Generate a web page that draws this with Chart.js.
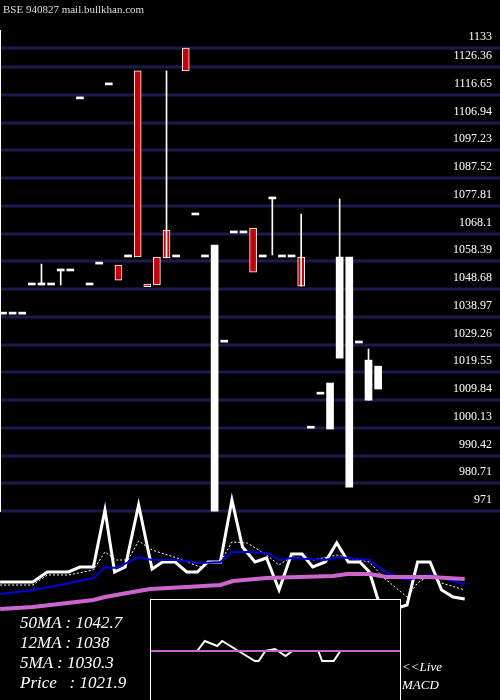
<!DOCTYPE html>
<html>
<head>
<meta charset="utf-8">
<script src="https://cdn.jsdelivr.net/npm/chart.js@4/dist/chart.umd.min.js"></script>
<style>
  body { margin: 0; background: #000; }
  #wrap { position: relative; width: 500px; height: 700px; background: #000; overflow: hidden; }
  #main { position: absolute; left: 0; top: 0; }
  #macdBox { position: absolute; left: 150px; top: 599px; width: 249px; height: 101px; border: 1px solid #fff; border-bottom: none; background: #000; }
  .t { position: absolute; color: #fff; font-family: "Liberation Serif", serif; font-style: italic; white-space: pre; }
</style>
</head>
<body>
<div id="wrap">
  <canvas id="main" width="500" height="700"></canvas>
  <div id="macdBox"><canvas id="macd" width="249" height="101"></canvas></div>
  <div class="t" style="left:3px;top:3px;font-style:normal;font-size:11px;color:#ddd">BSE 940827 mail.bullkhan.com</div>
  <div class="t" style="left:20px;top:613px;font-size:17px">50MA : 1042.7</div>
  <div class="t" style="left:20px;top:633px;font-size:17px">12MA : 1038</div>
  <div class="t" style="left:20px;top:653px;font-size:17px">5MA : 1030.3</div>
  <div class="t" style="left:20px;top:673px;font-size:17px">Price   : 1021.9</div>
  <div class="t" style="left:402px;top:659px;font-size:13px">&lt;&lt;Live</div>
  <div class="t" style="left:402px;top:677px;font-size:13px">MACD</div>
</div>
<script>
// candles, one per session
const opens  = [1039.9,1039.9,1039.9,1050.1,1050.1,1050.1,1055,1055,1115.2,1050.1,1057.4,1120.1,1057.1,1059.9,1125,1050.4,1059.9,1069.3,1059.9,1133,1074.6,1059.9,971,1030.1,1068.3,1068.3,1070,1059.9,1080.2,1059.9,1059.9,1059.9,1000,1011.9,999.7,1024.5,979.4,1029.8,1009.8,1013.7];
const closes = [1039.9,1039.9,1039.9,1050.1,1050.1,1050.1,1055,1055,1115.2,1050.1,1057.4,1120.1,1051.8,1059.9,1059.9,1049.5,1050.1,1059.6,1059.9,1125,1074.6,1059.9,1064.1,1030.1,1068.3,1068.3,1054.6,1059.9,1080.2,1059.9,1059.9,1049.7,1000,1011.9,1015.8,1059.9,1059.9,1029.8,1023.8,1021.7];
const highs  = [null,null,null,null,1057.4,null,1055,null,null,null,null,null,null,null,null,null,null,1125,null,null,null,null,null,null,null,null,null,null,1080.2,null,null,1074.9,null,null,null,1080.2,null,null,1027.7,null];
const lows   = [null,null,null,null,1050.1,null,1050.1,null,null,null,null,null,null,null,null,null,null,1059.6,null,null,null,null,null,null,null,null,null,null,1060.6,null,null,1049.7,null,null,null,1059.9,null,null,1009.8,null];
const yTicks = [1133,1126.36,1116.65,1106.94,1097.23,1087.52,1077.81,1068.1,1058.39,1048.68,1038.97,1029.26,1019.55,1009.84,1000.13,990.42,980.71,971];

// lower indicator panel (session position, level)
const priceX = [-0.3,3.1,4.6,6.8,8.0,9.4,10.6,11.6,12.7,14.1,15.5,16.6,17.9,19.1,20.2,21.3,22.6,23.8,24.9,26.2,27.4,28.7,30.0,31.1,32.2,33.5,34.7,35.9,37.1,38.1,39.0,40.2,41.3,42.0,43.1,44.4,45.6,46.8,48.0];
const priceLine = [1008,1008,1018,1018,1023,1023,1080,1018,1023,1085,1021,1028,1028,1018,1018,1028,1028,1090,1043,1028,1032,1000,1036,1036,1023,1028,1047,1028,1028,1018,990,940,983,985,1028,1028,1000,993,991];
const ma5X = [-0.3,3.1,4.6,6.8,9.4,10.6,11.8,13.0,14.1,15.5,18.1,20.5,21.3,22.6,23.8,25.4,27.4,28.7,30.0,32.2,34.7,35.9,38.1,39.5,42.0,43.1,44.4,45.6,48.0];
const ma5 = [1005,1005,1015,1015,1020,1038,1030,1030,1049,1040,1032,1023,1028,1028,1048,1047,1035,1025,1033,1030,1035,1032,1028,1013,993,1007,1015,1007,1000];
const ma12X = [-0.3,3.1,5.9,9.4,10.6,11.8,14.1,15.5,18.1,20.5,22.6,23.8,25.4,27.4,28.7,30.0,33.5,34.7,38.1,39.9,42.0,44.4,48.0];
const ma12 = [996,1000,1005,1012,1023,1022,1033,1030,1030,1027,1028,1038,1038,1037,1030,1032,1030,1033,1030,1017,1010,1015,1006];
const ma50X = [-0.3,3.1,6.7,9.4,10.6,13.5,15.3,19.1,22.6,23.9,27.4,30.9,34.3,35.8,38.1,39.9,44.4,48.0];
const ma50 = [981,983,987,990,993,998,1001,1003,1005,1009,1012,1013,1014,1016,1016,1013,1013,1011];

// MACD inset
const macdX = [0,4.8,5.6,6.9,7.4,9.1,10.8,11.2,11.9,12.9,14.0,14.7,17.4,17.8,19.0,19.7,24.7];
const macdLine = [0,0,10,5,10,0,-10,-10,0,2,-5,0,0,-10,-10,0,0];

const idx = opens.map((_, i) => i);
const bodyColor = idx.map(i => opens[i] > closes[i] ? '#cc0000' : '#ffffff');

const gridPlugin = {
  id: 'grid',
  beforeDatasetsDraw(chart) {
    const { ctx } = chart;
    const y = chart.scales.y;
    ctx.save();
    ctx.strokeStyle = '#1c1c4c';
    ctx.lineWidth = 3;
    yTicks.forEach(v => {
      const p = Math.round(y.getPixelForValue(v));
      ctx.beginPath(); ctx.moveTo(0, p); ctx.lineTo(500, p); ctx.stroke();
    });
    ctx.strokeStyle = '#ffffff'; ctx.lineWidth = 1;
    ctx.beginPath(); ctx.moveTo(0.5, 30); ctx.lineTo(0.5, 512); ctx.stroke();
    ctx.fillStyle = '#ffffff';
    ctx.font = '12px "Liberation Serif", serif';
    ctx.textAlign = 'right'; ctx.textBaseline = 'middle';
    yTicks.forEach(v => {
      ctx.fillText(String(v), 492, y.getPixelForValue(v) - 11);
    });
    ctx.restore();
  }
};

const pts = (xs, ys) => xs.map((x, i) => ({ x, y: ys[i] }));

new Chart(document.getElementById('main').getContext('2d'), {
  type: 'bar',
  data: {
    datasets: [
      { type: 'line', yAxisID: 'y2', data: pts(ma50X, ma50), borderColor: '#cc66cc', borderWidth: 4, pointRadius: 0, tension: 0 },
      { type: 'line', yAxisID: 'y2', data: pts(ma12X, ma12), borderColor: '#0000dd', borderWidth: 2, pointRadius: 0, tension: 0 },
      { type: 'line', yAxisID: 'y2', data: pts(ma5X, ma5), borderColor: '#ffffff', borderWidth: 1, borderDash: [2, 2], pointRadius: 0, tension: 0 },
      { type: 'line', yAxisID: 'y2', data: pts(priceX, priceLine), borderColor: '#ffffff', borderWidth: 3, pointRadius: 0, tension: 0 },
      { data: idx.filter(i => highs[i] !== null).map(i => ({ x: i, y: [lows[i], highs[i]] })),
        backgroundColor: '#ffffff', barThickness: 1, grouped: false },
      { data: idx.map(i => ({ x: i, y: [opens[i], closes[i]] })),
        backgroundColor: bodyColor, borderColor: '#ffffff',
        borderWidth: idx.map(i => opens[i] > closes[i] ? 1 : 0), borderSkipped: false,
        barThickness: 7, minBarLength: 2, grouped: false }
    ]
  },
  options: {
    animation: false, responsive: false,
    layout: { padding: 0 },
    plugins: { legend: { display: false }, tooltip: { enabled: false } },
    scales: {
      x: { type: 'linear', min: -0.312, max: 51.67, offset: false, display: false },
      y: { min: 904.9, max: 1149.8, display: false },
      y2: { min: 890, max: 1590, display: false }
    }
  },
  plugins: [gridPlugin]
});

new Chart(document.getElementById('macd').getContext('2d'), {
  type: 'line',
  data: {
    datasets: [
      { data: [{ x: 0, y: 0 }, { x: 25.9, y: 0 }], borderColor: '#cc66cc', borderWidth: 2, pointRadius: 0 },
      { data: pts(macdX, macdLine), borderColor: '#ffffff', borderWidth: 2, pointRadius: 0, tension: 0 }
    ]
  },
  options: {
    animation: false, responsive: false,
    layout: { padding: 0 },
    plugins: { legend: { display: false }, tooltip: { enabled: false } },
    scales: {
      x: { type: 'linear', min: 0, max: 25.9, display: false },
      y: { min: -50, max: 51, display: false }
    }
  }
});
</script>
</body>
</html>
